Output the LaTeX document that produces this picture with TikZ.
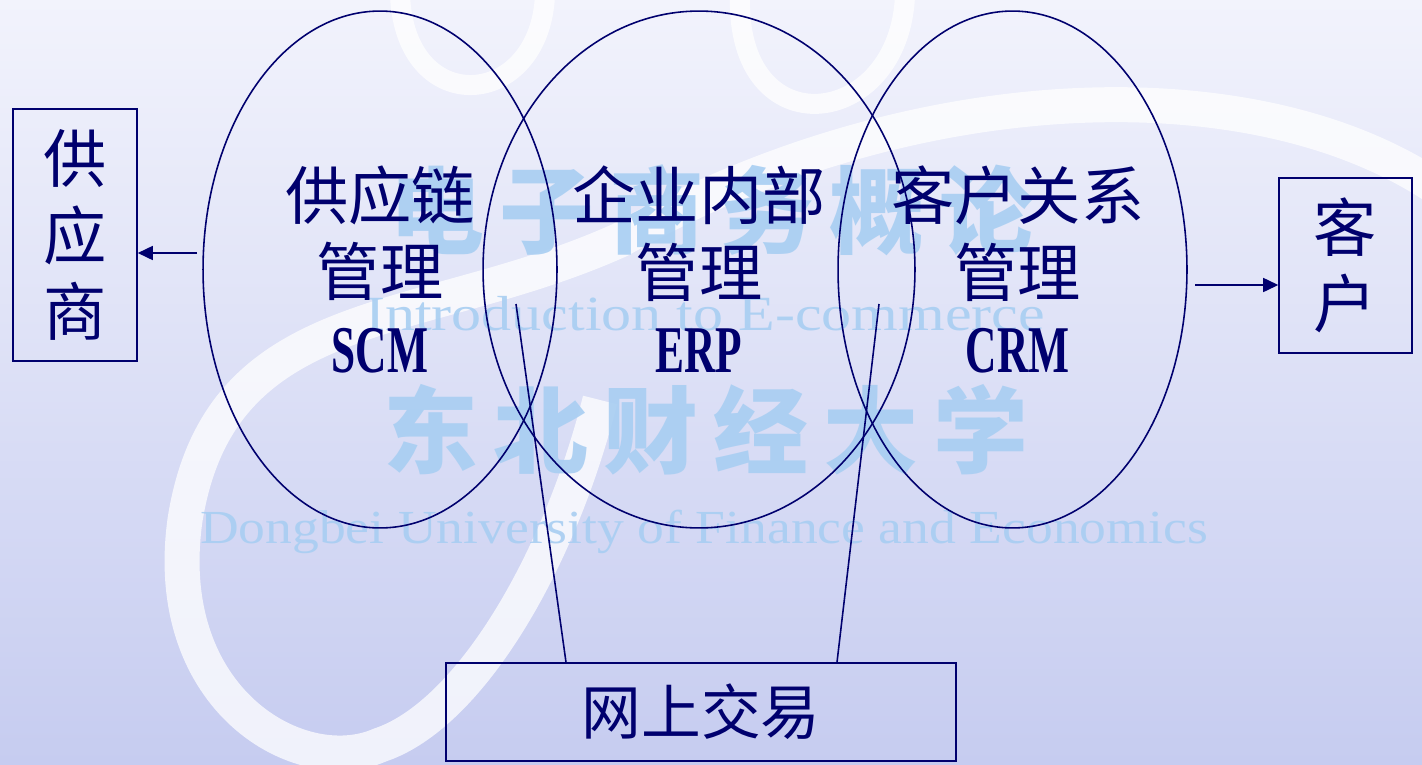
\documentclass[tikz,border=0pt]{standalone}
\usepackage{fontspec}
\setmainfont{Liberation Serif}
\newfontfamily\cjk{Noto Sans CJK SC}
\newfontfamily\wmcjk{Noto Sans CJK SC}[LetterSpace=16]
\newfontfamily\abbr{Liberation Serif}[FakeStretch=0.65]
\newfontfamily\wmfonta{Liberation Serif}[FakeStretch=1.22]
\newfontfamily\wmfontb{Liberation Serif}[FakeStretch=1.13]
\usetikzlibrary{shapes.geometric,arrows.meta,calc}
\definecolor{navy}{RGB}{0,0,110}
\definecolor{wmblue}{RGB}{168,206,242}
\definecolor{bgtop}{RGB}{242,243,252}
\definecolor{bgbot}{RGB}{198,204,240}
\begin{document}
\begin{tikzpicture}[x=0.02cm,y=-0.02cm,
  circ/.style={draw=navy,line width=0.9pt,ellipse,minimum height=10.34cm},
  lbl/.style={text=navy,align=center,font=\cjk\fontsize{36}{43.5}\selectfont},
  box/.style={draw=navy,line width=0.9pt,rectangle,text=navy,align=center,font=\cjk\fontsize{36}{43.5}\selectfont},
  arr/.style={draw=navy,line width=0.9pt,-{Triangle[length=0.3cm,width=0.28cm]}},
  link/.style={draw=navy,line width=0.9pt},
  swirl/.style={draw=white,opacity=0.75,line width=0.7cm},
  wm/.style={text=wmblue,opacity=0.9}]
\useasboundingbox (0,0) rectangle (1422,764);
\shade[top color=bgtop,bottom color=bgbot] (0,0) rectangle (1422,764);

% background of the slide
\begin{scope}
\clip (0,0) rectangle (1422,764);
\draw[swirl] (1440,190) .. controls (1250,60) and (900,80) .. (620,240)
  .. controls (420,330) and (220,300) .. (185,520)
  .. controls (160,700) and (300,780) .. (380,745)
  .. controls (470,715) and (560,560) .. (600,400);
\draw[swirl,line width=0.4cm] (400,-5) .. controls (405,120) and (540,110) .. (545,-5);
\draw[swirl,line width=0.4cm] (740,-5) .. controls (735,150) and (900,130) .. (905,-5);
\end{scope}
\node[wm,font=\wmcjk\bfseries\fontsize{54}{54}\selectfont] (wmtitle) at (712,210) {电子商务概论};
\node[wm,font=\wmfonta\fontsize{28}{28}\selectfont,anchor=base] (wmeng) at (705,330) {Introduction to E-commerce};
\node[wm,font=\wmcjk\bfseries\fontsize{54}{54}\selectfont] (wmschool) at (706,430) {东北财经大学};
\node[wm,font=\wmfontb\fontsize{27}{27}\selectfont,anchor=base] (wmuni) at (704,543) {Dongbei University of Finance and Economics};

% three management areas
\node[circ,minimum width=7.08cm] (scm) at (380,269.5) {};
\node[circ,minimum width=8.64cm] (erp) at (699,269.5) {};
\node[circ,minimum width=6.98cm] (crm) at (1012.5,269.5) {};
\node[lbl] (scmtext) at (scm) {供应链\\管理\\{\abbr\bfseries\fontsize{38}{43.5}\selectfont SCM}};
\node[lbl] (erptext) at (erp) {企业内部\\管理\\{\abbr\bfseries\fontsize{38}{43.5}\selectfont ERP}};
\node[lbl] (crmtext) at ([xshift=3]crm.center) {客户关系\\管理\\{\abbr\bfseries\fontsize{38}{43.5}\selectfont CRM}};

\node[box,minimum width=2.48cm,minimum height=5.04cm] (supplier) at (75,235) {供\\应\\商};
\node[box,minimum width=2.66cm,minimum height=3.5cm] (client) at (1345.5,265.5) {客\\户};
\node[box,minimum width=10.2cm,minimum height=1.96cm,font=\cjk\fontsize{34}{40}\selectfont] (trade) at (701,712) {网上交易};

\coordinate (s) at (197,253);
\draw[arr] (s) -- (s -| supplier.east);
\coordinate (c) at (1195,285);
\draw[arr] (c) -- (c -| client.west);

\coordinate (p) at (516,304);
\coordinate (q) at (879,304);
\draw[link] ($(trade.north)+(-135,0)$) -- (p);
\draw[link] ($(trade.north)+(136,0)$) -- (q);
\end{tikzpicture}
\end{document}
